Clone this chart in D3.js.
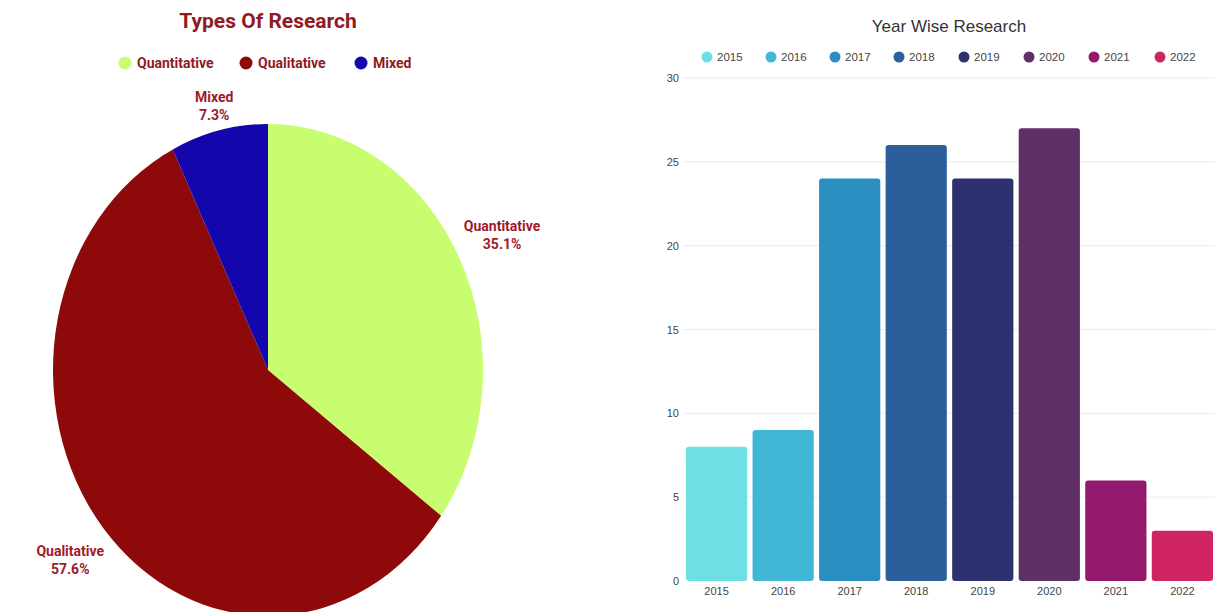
<!DOCTYPE html>
<html lang="en">
<head>
    <meta charset="UTF-8">
    <title>Research Charts</title>
    <script src="https://d3js.org/d3.v7.min.js"></script>
    <style>
        body { margin: 0; background: #fff; }
        svg { display: block; }
    </style>
</head>
<body>
    <div id="chart"></div>
    <script>
        // pie data
        const types = ["Quantitative", "Qualitative", "Mixed"];
        const typeShares = [35.1, 57.6, 7.3];
        const typeColors = ["#c7fd6f", "#8e0a0a", "#1306ad"];

        // bar data
        const years = ["2015", "2016", "2017", "2018", "2019", "2020", "2021", "2022"];
        const counts = [8, 9, 24, 26, 24, 27, 6, 3];
        const yearColors = ["#6ee0e4", "#42b6d5", "#2a8fc0", "#2b5e9b", "#2d3170", "#5f3068", "#93196e", "#cf2462"];
        const yTicks = [0, 5, 10, 15, 20, 25, 30];

        const w = 1215;
        const h = 612;

        const svg = d3.select('#chart')
            .append('svg')
            .attr("width", w)
            .attr("height", h);

        // ---------- pie ----------
        const labelRed = "#9e1a2c";
        svg.append("text")
            .attr("x", 268)
            .attr("y", 28)
            .attr("text-anchor", "middle")
            .attr("font-family", "Roboto")
            .attr("font-weight", "bold")
            .attr("font-size", 21)
            .attr("fill", "#8f1a22")
            .text("Types Of Research");

        const pieLegendX = [125, 246, 361];
        types.forEach((t, i) => {
            svg.append("circle")
                .attr("cx", pieLegendX[i])
                .attr("cy", 63)
                .attr("r", 6.5)
                .attr("fill", typeColors[i]);
            svg.append("text")
                .attr("x", pieLegendX[i] + 12)
                .attr("y", 68)
                .attr("font-family", "Roboto")
                .attr("font-weight", "bold")
                .attr("font-size", 14)
                .attr("fill", "#8f1a22")
                .text(t);
        });

        const cx = 268, cy = 370, rx = 215, ry = 246;
        const pie = d3.pie().sort(null).value(d => d)(typeShares);
        const arc = d3.arc().innerRadius(0).outerRadius(rx);
        const pieG = svg.append("g")
            .attr("transform", "translate(" + cx + "," + cy + ") scale(1," + (ry / rx) + ")");
        pieG.selectAll("path")
            .data(pie)
            .enter()
            .append("path")
            .attr("d", arc)
            .attr("fill", (d, i) => typeColors[i]);

        // label blocks sit on the slice mid angle, outside the ellipse
        const labelDist = [1.22, 1.2, 1.1];
        pie.forEach((d, i) => {
            const a = (d.startAngle + d.endAngle) / 2;
            const lx = cx + Math.sin(a) * rx * labelDist[i];
            const ly = cy - Math.cos(a) * ry * labelDist[i];
            const t = svg.append("text")
                .attr("text-anchor", "middle")
                .attr("font-family", "Roboto")
                .attr("font-weight", "bold")
                .attr("font-size", 14)
                .attr("fill", labelRed);
            t.append("tspan").attr("x", lx).attr("y", ly - 4).text(types[i]);
            t.append("tspan").attr("x", lx).attr("y", ly + 14).text(typeShares[i] + "%");
        });

        // ---------- bars ----------
        const chartFont = "Liberation Sans, Arial, sans-serif";
        svg.append("text")
            .attr("x", 949)
            .attr("y", 32)
            .attr("text-anchor", "middle")
            .attr("font-family", chartFont)
            .attr("font-size", 17)
            .attr("fill", "#333")
            .text("Year Wise Research");

        const legendX = [707, 771, 835, 899, 964, 1029, 1094, 1160];
        years.forEach((y, i) => {
            svg.append("circle")
                .attr("cx", legendX[i])
                .attr("cy", 57)
                .attr("r", 5.5)
                .attr("fill", yearColors[i]);
            svg.append("text")
                .attr("x", legendX[i] + 10)
                .attr("y", 61)
                .attr("font-family", chartFont)
                .attr("font-size", 11.5)
                .attr("fill", "#444")
                .text(y);
        });

        const xScale = d3.scaleBand()
            .domain(years)
            .range([684, 1215])
            .paddingInner(0.08)
            .paddingOuter(0.03);
        const yScale = d3.scaleLinear()
            .domain([0, 30])
            .range([581, 78]);

        svg.append("g")
            .selectAll("line")
            .data(yTicks.slice(1))
            .enter()
            .append("line")
            .attr("x1", 684)
            .attr("x2", 1215)
            .attr("y1", d => yScale(d))
            .attr("y2", d => yScale(d))
            .attr("stroke", "#ebebeb")
            .attr("stroke-width", 1);

        const yAxis = d3.axisLeft(yScale).tickValues(yTicks).tickSize(0).tickPadding(0);
        const yG = svg.append("g")
            .attr("transform", "translate(679,0)")
            .call(yAxis);
        yG.select(".domain").remove();
        yG.selectAll("text")
            .attr("font-family", chartFont)
            .attr("font-size", 11)
            .attr("fill", "#444");

        svg.selectAll("rect.bar")
            .data(counts)
            .enter()
            .append("rect")
            .attr("class", "bar")
            .attr("x", (d, i) => xScale(years[i]))
            .attr("y", d => yScale(d))
            .attr("width", xScale.bandwidth())
            .attr("height", d => yScale(0) - yScale(d))
            .attr("rx", 3)
            .attr("fill", (d, i) => yearColors[i]);

        const xAxis = d3.axisBottom(xScale).tickSize(0).tickPadding(6);
        const xG = svg.append("g")
            .attr("transform", "translate(0,581)")
            .call(xAxis);
        xG.select(".domain").remove();
        xG.selectAll("text")
            .attr("font-family", chartFont)
            .attr("font-size", 11)
            .attr("fill", "#444");
    </script>
</body>
</html>
